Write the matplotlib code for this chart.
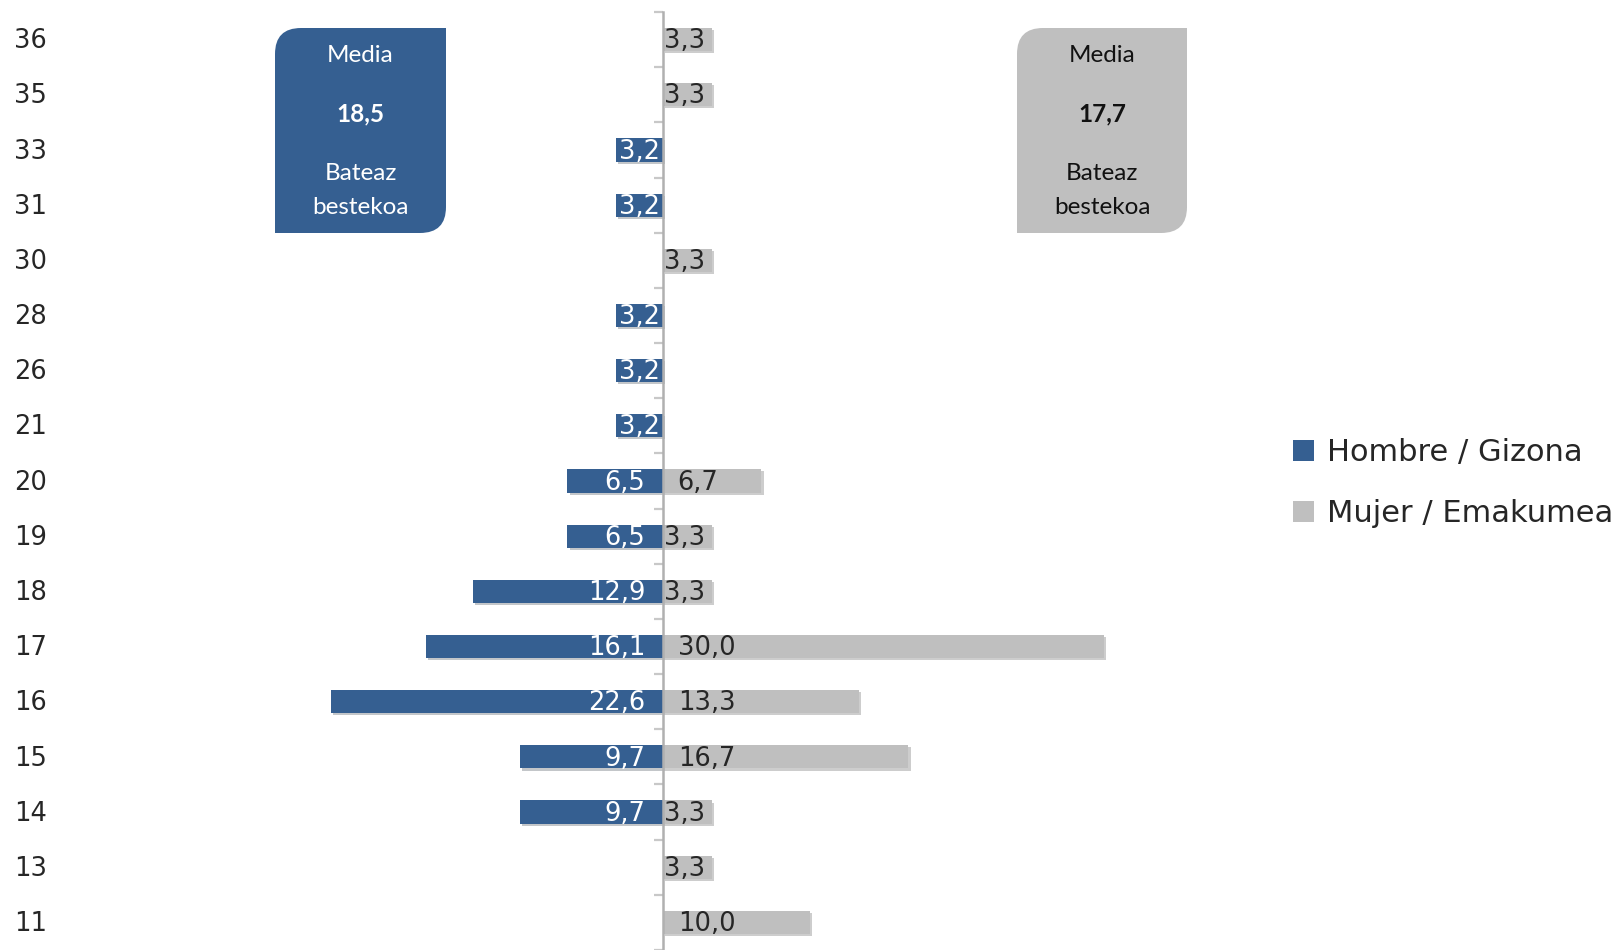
import matplotlib.pyplot as plt
import matplotlib.patheffects as pe
from matplotlib.patches import Patch, PathPatch
from matplotlib.path import Path
from matplotlib.transforms import blended_transform_factory

# age at first ... (years), share of respondents per sex (%)
ages = ['36', '35', '33', '31', '30', '28', '26', '21', '20', '19', '18', '17', '16', '15', '14', '13', '11']
hombre = [0, 0, 3.2, 3.2, 0, 3.2, 3.2, 3.2, 6.5, 6.5, 12.9, 16.1, 22.6, 9.7, 9.7, 0, 0]
mujer = [3.3, 3.3, 0, 0, 3.3, 0, 0, 0, 6.7, 3.3, 3.3, 30.0, 13.3, 16.7, 3.3, 3.3, 10.0]
media_hombre = '18,5'
media_mujer = '17,7'
legend_labels = ['Hombre / Gizona', 'Mujer / Emakumea']

blue = '#355F91'
grey = '#BFBFBF'
W, H = 1619, 950

fig = plt.figure(figsize=(W / 100, H / 100), dpi=100)
ax = fig.add_axes([0, 0, 1, 1 - 12 / H])

px_per_unit = 14.7
zero_px = 663
ax.set_xlim(-zero_px / px_per_unit, (W - zero_px) / px_per_unit)
ax.set_ylim(len(ages) - 0.5, -0.5)

ypos = list(range(len(ages)))
shadow = [pe.SimplePatchShadow(offset=(1.5, -1.5), alpha=0.25), pe.Normal()]
ax.barh(ypos, [-v for v in hombre], height=0.42, color=blue, path_effects=shadow, zorder=2)
ax.barh(ypos, mujer, height=0.42, color=grey, path_effects=shadow, zorder=2)

# value labels
for y, v in zip(ypos, hombre):
    if v:
        pad = 1.2 if v > 5 else 0.2
        ax.text(-pad, y + 0.03, f'{v:.1f}'.replace('.', ','), ha='right', va='center',
                color='white', fontsize=18.5, zorder=3)
for y, v in zip(ypos, mujer):
    if v:
        pad = 1.0 if v > 5 else 0.1
        ax.text(pad, y + 0.03, f'{v:.1f}'.replace('.', ','), ha='left', va='center',
                color='#262626', fontsize=18.5, zorder=3)

# central axis with tick marks between categories
for s in ['top', 'right', 'bottom']:
    ax.spines[s].set_visible(False)
ax.spines['left'].set_position(('data', 0))
ax.spines['left'].set_color('#B0B0B0')
ax.spines['left'].set_linewidth(1.8)
ax.spines['left'].set_zorder(4)
ax.set_xticks([])
ax.set_yticks([])
ax.set_yticks([y - 0.5 for y in ypos] + [len(ages) - 0.5], minor=True)
ax.tick_params(axis='y', which='minor', length=6.5, width=1.6, color='#C8C8C8', direction='out')
ax.set_facecolor('none')

# category labels at the far left
trans = blended_transform_factory(ax.transAxes, ax.transData)
for y, a in zip(ypos, ages):
    ax.text(14 / W, y + 0.03, a, transform=trans, ha='left', va='center', fontsize=18.5, color='#262626')


def media_box(x0, x1, y0, y1, color, text_color, value):
    # rectangle with rounded top-left and bottom-right corners (inches)
    r = 0.26
    verts = [(x0 + r, y1), (x1, y1), (x1, y0 + r), (x1, y0), (x1 - r, y0),
             (x0, y0), (x0, y1 - r), (x0, y1), (x0 + r, y1), (x0 + r, y1)]
    codes = [Path.MOVETO, Path.LINETO, Path.LINETO, Path.CURVE3, Path.CURVE3,
             Path.LINETO, Path.LINETO, Path.CURVE3, Path.CURVE3, Path.CLOSEPOLY]
    box = PathPatch(Path(verts, codes), facecolor=color, edgecolor='none',
                    transform=fig.dpi_scale_trans)
    fig.patches.append(box)
    cx = (x0 + x1) / 2
    kw = dict(transform=fig.dpi_scale_trans, ha='center', va='center',
              color=text_color, family='Lato', fontsize=17.5)
    fig.text(cx, 9.5 - 0.56, 'Media', **kw)
    fig.text(cx, 9.5 - 1.14, value, fontweight='bold', **kw)
    fig.text(cx, 9.5 - 1.73, 'Bateaz', **kw)
    fig.text(cx, 9.5 - 2.07, 'bestekoa', **kw)


media_box(2.75, 4.46, 9.5 - 2.33, 9.5 - 0.28, blue, 'white', media_hombre)
media_box(10.17, 11.87, 9.5 - 2.33, 9.5 - 0.28, grey, '#111111', media_mujer)

handles = [Patch(facecolor=blue), Patch(facecolor=grey)]
fig.legend(handles, legend_labels, loc='center left', bbox_to_anchor=(1293 / W, 1 - 483 / H),
           frameon=False, fontsize=22, handlelength=0.7, handleheight=0.7,
           handletextpad=0.42, labelspacing=1.05, borderpad=0, borderaxespad=0,
           labelcolor='#262626')

fig.savefig('out.png', dpi=100)
